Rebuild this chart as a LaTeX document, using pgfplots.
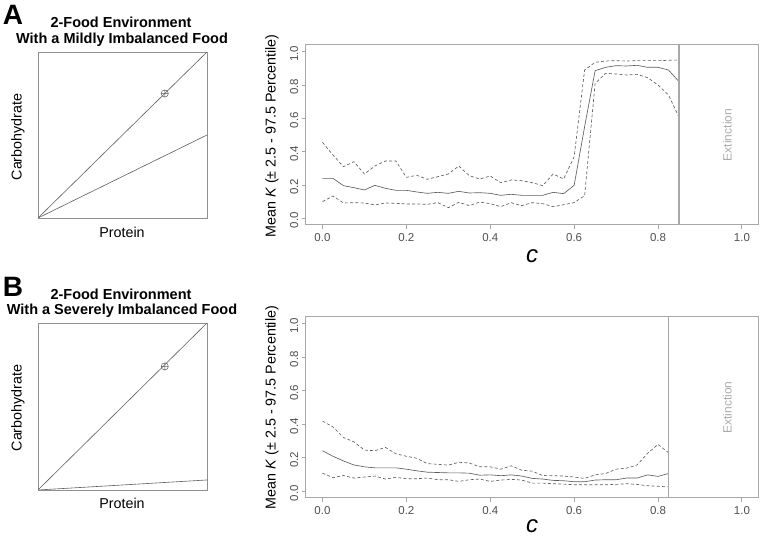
\documentclass[border=0pt]{standalone}
\usepackage{pgfplots}
\pgfplotsset{compat=1.18}
\usepackage{fontspec}
\setmainfont{Liberation Sans}
\usetikzlibrary{plotmarks}
\definecolor{frame}{HTML}{A8A8A8}
\definecolor{sqframe}{HTML}{909090}
\definecolor{ln}{HTML}{5E5E5E}
\definecolor{tl}{HTML}{505050}
\definecolor{ext}{HTML}{AAAAAA}

\pgfplotstableread{
c mean up lo
0.000 0.240 0.456 0.100
0.025 0.240 0.380 0.134
0.050 0.196 0.310 0.092
0.075 0.184 0.340 0.094
0.100 0.170 0.266 0.092
0.125 0.198 0.314 0.080
0.150 0.180 0.344 0.092
0.175 0.168 0.344 0.090
0.200 0.168 0.246 0.086
0.225 0.158 0.258 0.086
0.250 0.150 0.234 0.084
0.275 0.156 0.250 0.094
0.300 0.150 0.266 0.064
0.325 0.162 0.314 0.096
0.350 0.152 0.256 0.076
0.375 0.154 0.236 0.098
0.400 0.150 0.254 0.088
0.425 0.138 0.214 0.070
0.450 0.144 0.230 0.094
0.475 0.138 0.226 0.076
0.500 0.138 0.214 0.094
0.525 0.138 0.196 0.088
0.550 0.156 0.266 0.070
0.575 0.148 0.236 0.082
0.600 0.198 0.370 0.094
0.625 0.550 0.890 0.136
0.650 0.886 0.936 0.810
0.675 0.906 0.944 0.870
0.700 0.916 0.946 0.866
0.725 0.914 0.944 0.860
0.750 0.918 0.946 0.864
0.775 0.906 0.946 0.844
0.800 0.906 0.946 0.800
0.825 0.890 0.948 0.740
0.850 0.820 0.950 0.606
}\dataA

\pgfplotstableread{
c mean up lo
0.000 0.242 0.419 0.108
0.025 0.209 0.384 0.081
0.050 0.181 0.321 0.094
0.075 0.157 0.295 0.079
0.100 0.146 0.246 0.085
0.125 0.140 0.242 0.091
0.150 0.140 0.262 0.073
0.175 0.140 0.224 0.083
0.200 0.132 0.209 0.075
0.225 0.122 0.197 0.075
0.250 0.114 0.165 0.079
0.275 0.112 0.161 0.069
0.300 0.110 0.156 0.069
0.325 0.110 0.173 0.059
0.350 0.108 0.169 0.069
0.375 0.096 0.146 0.073
0.400 0.098 0.146 0.059
0.425 0.093 0.132 0.067
0.450 0.098 0.152 0.071
0.475 0.091 0.126 0.067
0.500 0.077 0.120 0.049
0.525 0.073 0.094 0.049
0.550 0.065 0.093 0.045
0.575 0.063 0.091 0.043
0.600 0.057 0.085 0.039
0.625 0.057 0.077 0.039
0.650 0.067 0.098 0.039
0.675 0.069 0.106 0.039
0.700 0.069 0.132 0.041
0.725 0.079 0.138 0.045
0.750 0.079 0.157 0.041
0.775 0.098 0.226 0.033
0.800 0.089 0.280 0.030
0.825 0.106 0.230 0.026
}\dataB

\pgfplotsset{
  sq/.style={
    scale only axis, anchor=south west, width=169pt,
    xmin=0, xmax=1, ymin=0, ymax=1,
    xtick=\empty, ytick=\empty,
    axis line style={draw=sqframe, line width=0.7pt},
  },
  rp/.style={
    scale only axis, anchor=south west, width=453pt,
    xmin=-0.04, xmax=1.04, ymin=-0.04, ymax=1.04,
    xtick={0,0.2,...,1.0}, ytick={0,0.2,...,1.0},
    tick align=outside, major tick length=4pt,
    tick style={draw=frame, line width=0.9pt},
    xtick pos=bottom, ytick pos=left,
    axis line style={draw=frame, line width=1pt},
    /pgf/number format/assume math mode=true,
    /pgf/number format/.cd, fixed, fixed zerofill, precision=1, /pgfplots/.cd,
    ticklabel style={font=\fontsize{11.5}{13}\selectfont, text=tl},
    yticklabel style={rotate=90, anchor=south, xshift=-2pt},
    xticklabel style={yshift=-1pt},
  },
  dashedl/.style={ln, line width=0.65pt, dash pattern=on 3pt off 2.2pt},
  solidl/.style={ln, line width=0.65pt},
}

\begin{document}
\begin{tikzpicture}[x=1pt,y=1pt]
\path[use as bounding box] (0,0) rectangle (766,537);

% ---------- Panel A ----------
\node[font=\bfseries\fontsize{28}{30}\selectfont] at (13,522) {A};
\node[font=\bfseries\fontsize{14.5}{16}\selectfont] at (121,515) {2-Food Environment};
\node[font=\bfseries\fontsize{14.5}{16}\selectfont] at (122,497) {With a Mildly Imbalanced Food};

\begin{axis}[sq, at={(38pt,319pt)}, height=166pt]
  \addplot[ln, line width=0.6pt] coordinates {(0,0) (1,1)};
  \addplot[ln, line width=0.6pt] coordinates {(0,0) (1,0.5)};
  \addplot[only marks, mark=oplus, mark size=3.6pt, mark options={draw=ln, line width=0.5pt}] coordinates {(0.75,0.75)};
\end{axis}
\node[font=\fontsize{14.3}{16}\selectfont] at (122,305) {Protein};
\node[font=\fontsize{14.3}{16}\selectfont, rotate=90] at (18,400) {Carbohydrate};

\begin{axis}[rp, at={(305.7pt,312pt)}, height=180pt]
  \addplot[dashedl] table[x=c,y=up] {\dataA};
  \addplot[dashedl] table[x=c,y=lo] {\dataA};
  \addplot[solidl] table[x=c,y=mean] {\dataA};
  \addplot[frame, line width=1.1pt] coordinates {(0.85,-0.04) (0.85,1.04)};
  \node[rotate=90, text=ext, font=\fontsize{12}{14}\selectfont] at (axis cs:0.965,0.5) {Extinction};
\end{axis}
\node[font=\fontsize{14.3}{16}\selectfont, rotate=90] at (272,401) {Mean \textit{K} (± 2.5 - 97.5 Percentile)};
\node[font=\itshape\fontsize{24}{26}\selectfont] at (532,281) {c};

% ---------- Panel B ----------
\node[font=\bfseries\fontsize{28}{30}\selectfont] at (13,250) {B};
\node[font=\bfseries\fontsize{14.5}{16}\selectfont] at (121,243) {2-Food Environment};
\node[font=\bfseries\fontsize{14.5}{16}\selectfont] at (122,226) {With a Severely Imbalanced Food};

\begin{axis}[sq, at={(38pt,47pt)}, height=167pt]
  \addplot[ln, line width=0.6pt] coordinates {(0,0) (1,1)};
  \addplot[ln, line width=0.6pt] coordinates {(0,0) (1,0.06)};
  \addplot[only marks, mark=oplus, mark size=3.6pt, mark options={draw=ln, line width=0.5pt}] coordinates {(0.75,0.74)};
\end{axis}
\node[font=\fontsize{14.3}{16}\selectfont] at (122,34) {Protein};
\node[font=\fontsize{14.3}{16}\selectfont, rotate=90] at (18,129) {Carbohydrate};

\begin{axis}[rp, at={(305.7pt,39pt)}, height=181pt]
  \addplot[dashedl] table[x=c,y=up] {\dataB};
  \addplot[dashedl] table[x=c,y=lo] {\dataB};
  \addplot[solidl] table[x=c,y=mean] {\dataB};
  \addplot[frame, line width=1.1pt] coordinates {(0.825,-0.04) (0.825,1.04)};
  \node[rotate=90, text=ext, font=\fontsize{12}{14}\selectfont] at (axis cs:0.965,0.5) {Extinction};
\end{axis}
\node[font=\fontsize{14.3}{16}\selectfont, rotate=90] at (272,129.5) {Mean \textit{K} (± 2.5 - 97.5 Percentile)};
\node[font=\itshape\fontsize{24}{26}\selectfont] at (532,11) {c};
\end{tikzpicture}
\end{document}
